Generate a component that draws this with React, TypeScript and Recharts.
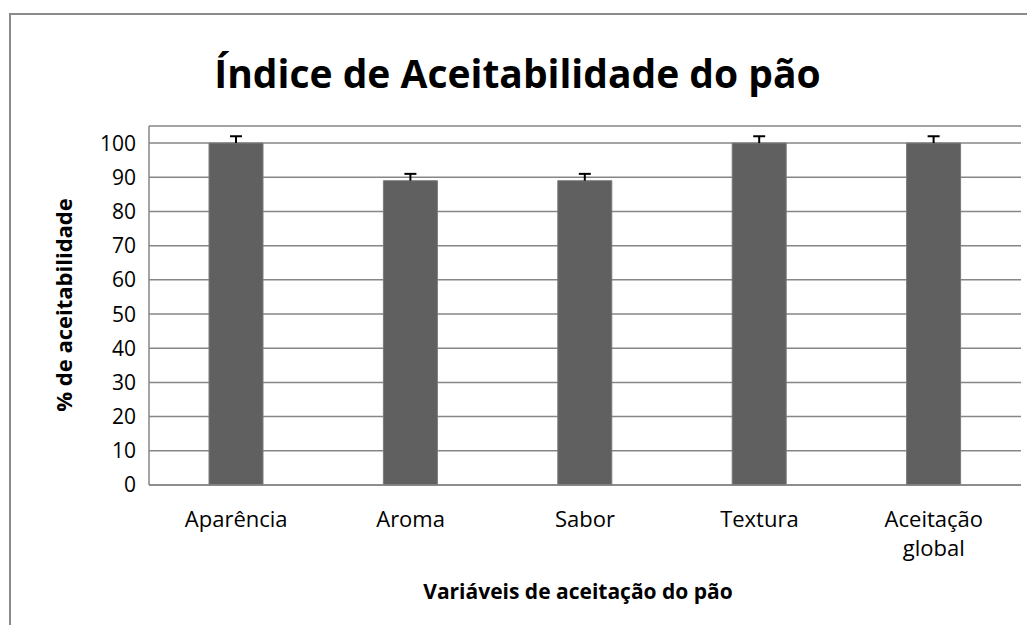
import { BarChart, Bar, XAxis, YAxis, CartesianGrid, LabelList, Label } from 'recharts'

const categories = ['Aparência', 'Aroma', 'Sabor', 'Textura', 'Aceitação global']
const acceptance = [100, 89, 89, 100, 100]
const errors = [2, 2, 2, 2, 2]
const yTicks = [0, 10, 20, 30, 40, 50, 60, 70, 80, 90, 100]

const data = categories.map((name, i) => ({ name, value: acceptance[i], err: errors[i] }))

const FONT = '"Open Sans", sans-serif'
const GRID = '#868686'

function CategoryTick({ x, y, payload }: any) {
  const words = String(payload.value).split(' ')
  return (
    <text x={x} y={527} textAnchor="middle" fill="#000" fontSize={22} fontFamily={FONT}>
      {words.map((l: string, i: number) => (
        <tspan key={i} x={x} dy={i === 0 ? 0 : 29}>{l}</tspan>
      ))}
    </text>
  )
}

// upper error whisker, scaled from the bar's own pixel height
function Whisker(props: any) {
  const { x, y, width, height, index } = props
  const d = data[index]
  const len = (d.err * height) / d.value
  const cx = x + width / 2
  return (
    <g stroke="#000" strokeWidth={2}>
      <line x1={cx} y1={y} x2={cx} y2={y - len} />
      <line x1={cx - 6} y1={y - len} x2={cx + 6} y2={y - len} />
    </g>
  )
}

export default function App() {
  return (
    <div style={{ position: 'relative', width: 1035, height: 633, margin: -8, background: '#fff', overflow: 'hidden' }}>
      <div style={{ position: 'absolute', left: 9, top: 13, width: 1040, height: 640, borderTop: '2px solid #8a8a8a', borderLeft: '2px solid #8a8a8a' }} />
      <div style={{ position: 'absolute', left: 0, top: 47, width: 1035, textAlign: 'center', fontFamily: FONT, fontWeight: 700, fontSize: 39, lineHeight: '52px', color: '#000' }}>
        Índice de Aceitabilidade do pão
      </div>
      <div style={{ position: 'absolute', left: 0, top: 0 }}>
        <BarChart width={1035} height={633} data={data} margin={{ top: 126, right: 14, bottom: 0, left: 0 }}>
          <CartesianGrid vertical={false} stroke={GRID} strokeWidth={1.5} />
          <XAxis
            dataKey="name"
            height={148}
            axisLine={{ stroke: GRID, strokeWidth: 1.5 }}
            tickLine={false}
            tick={<CategoryTick />}
            interval={0}
          >
            <Label
              content={() => (
                <text x={578} y={599} textAnchor="middle" fontFamily={FONT} fontWeight={700} fontSize={21} fill="#000">
                  Variáveis de aceitação do pão
                </text>
              )}
            />
          </XAxis>
          <YAxis
            width={149}
            domain={[0, 105]}
            ticks={yTicks}
            interval={0}
            axisLine={{ stroke: GRID, strokeWidth: 1.5 }}
            tickLine={false}
            tickMargin={7}
            tick={{ fill: '#000', fontSize: 21, fontFamily: FONT }}
          >
            <Label
              content={() => (
                <text x={72} y={305} textAnchor="middle" fontFamily={FONT} fontWeight={700} fontSize={22} fill="#000" transform="rotate(-90 72 305)">
                  % de aceitabilidade
                </text>
              )}
            />
          </YAxis>
          <Bar dataKey="value" barSize={54} fill="#606060" stroke="#7a7a7a" strokeWidth={1} isAnimationActive={false}>
            <LabelList dataKey="err" content={<Whisker />} />
          </Bar>
        </BarChart>
      </div>
    </div>
  )
}
